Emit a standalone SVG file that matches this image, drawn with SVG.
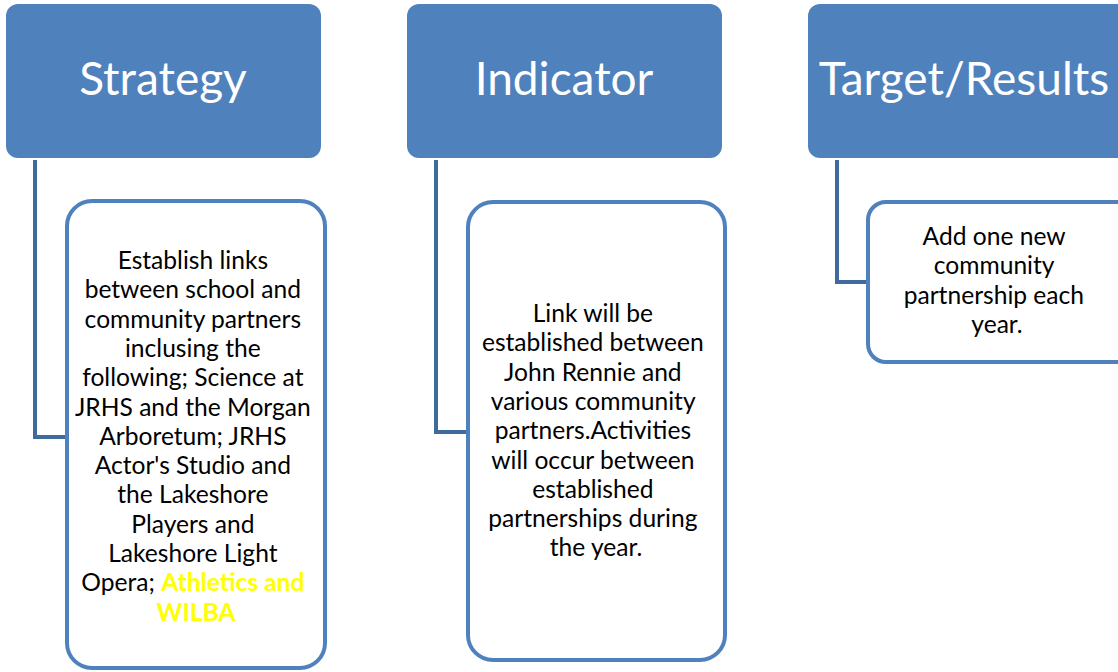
<svg xmlns="http://www.w3.org/2000/svg" width="1118" height="672" viewBox="0 0 1118 672">
<style>
.hdr{fill:#4F81BD;}
.hdrt{fill:#FFFFFF;font-family:Lato,"Open Sans",sans-serif;font-size:46px;text-anchor:middle;}
.child{fill:#FFFFFF;stroke:#4F81BD;stroke-width:4;}
.body{fill:#000000;font-family:Lato,"Open Sans",sans-serif;font-size:24.6px;text-anchor:middle;}
.hl{fill:#FFFF00;font-weight:bold;}
.conn{fill:none;stroke:#3F6A9C;stroke-width:4;}
</style>
<rect width="1118" height="672" fill="#FFFFFF"/>
<g id="connectors">
<path class="conn" d="M35,160 V437 H67"/>
<path class="conn" d="M436,160 V432 H468"/>
<path class="conn" d="M837,160 V282 H868"/>
</g>
<g id="strategy">
<rect class="hdr" x="6" y="4" width="315" height="154" rx="12"/>
<text class="hdrt" x="163" y="95">Strategy</text>
</g>
<g id="indicator">
<rect class="hdr" x="407" y="4" width="315" height="154" rx="12"/>
<text class="hdrt" x="564" y="95">Indicator</text>
</g>
<g id="target">
<rect class="hdr" x="808" y="4" width="330" height="154" rx="12"/>
<text class="hdrt" x="964" y="95">Target/Results</text>
</g>
<g id="strategy-detail">
<rect class="child" x="67" y="201" width="258" height="467" rx="25"/>
<text class="body">
<tspan x="196" y="269">Establish links</tspan>
<tspan x="196" y="298.3">between school and</tspan>
<tspan x="196" y="327.6">community partners</tspan>
<tspan x="196" y="357">inclusing the</tspan>
<tspan x="196" y="386.2">following; Science at</tspan>
<tspan x="196" y="415.5">JRHS and the Morgan</tspan>
<tspan x="196" y="444.8">Arboretum; JRHS</tspan>
<tspan x="196" y="474">Actor's Studio and</tspan>
<tspan x="196" y="503.4">the Lakeshore</tspan>
<tspan x="196" y="532.7">Players and</tspan>
<tspan x="196" y="562">Lakeshore Light</tspan>
<tspan x="196" y="591.3">Opera; <tspan class="hl">Athletics and</tspan></tspan>
<tspan x="196" y="620.6" class="hl">WILBA</tspan>
</text>
</g>
<g id="indicator-detail">
<rect class="child" x="468" y="202" width="257" height="458" rx="25"/>
<text class="body">
<tspan x="596" y="322">Link will be</tspan>
<tspan x="596" y="351.3">established between</tspan>
<tspan x="596" y="380.6">John Rennie and</tspan>
<tspan x="596" y="410">various community</tspan>
<tspan x="596" y="439.2">partners.Activities</tspan>
<tspan x="596" y="468.5">will occur between</tspan>
<tspan x="596" y="497.8">established</tspan>
<tspan x="596" y="527.1">partnerships during</tspan>
<tspan x="596" y="556.4">the year.</tspan>
</text>
</g>
<g id="target-detail">
<rect class="child" x="868" y="202" width="270" height="160" rx="18"/>
<text class="body">
<tspan x="997" y="245">Add one new</tspan>
<tspan x="997" y="274.3">community</tspan>
<tspan x="997" y="303.6">partnership each</tspan>
<tspan x="997" y="333">year.</tspan>
</text>
</g>
</svg>
